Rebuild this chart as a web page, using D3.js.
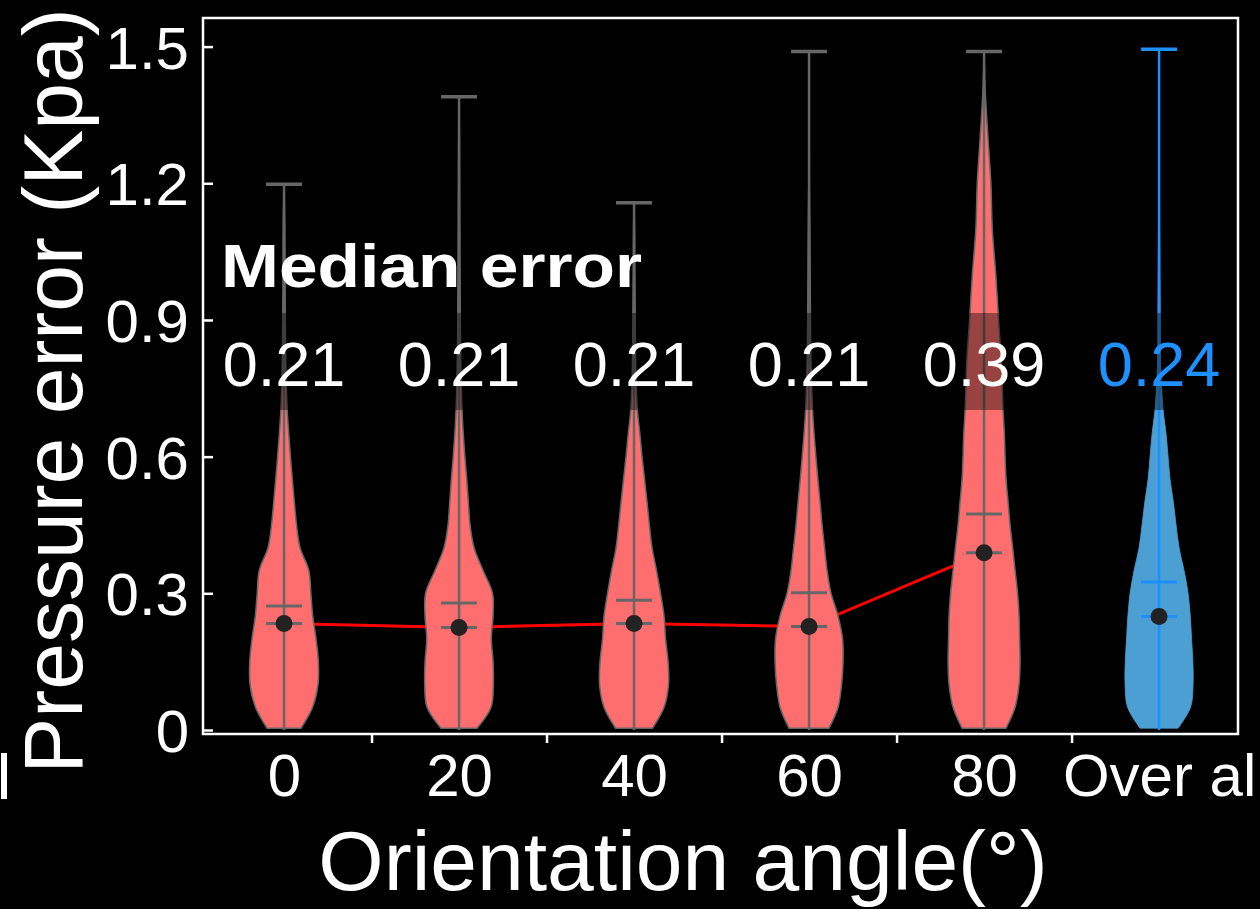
<!DOCTYPE html>
<html><head><meta charset="utf-8">
<script src="https://cdn.jsdelivr.net/npm/d3@7"></script>
<style>body{margin:0;background:#000}svg{display:block}</style>
</head><body><svg id="c" width="1260" height="909"></svg>
<script>
// ---- data ----
const categories = ["0", "20", "40", "60", "80", "Over al"];
const medianLabels = ["0.21", "0.21", "0.21", "0.21", "0.39", "0.24"];
const maxValues = [1.198, 1.39, 1.157, 1.489, 1.489, 1.494];
const minValues = [0, 0, 0, 0, 0, 0];
const meanValues = [0.272, 0.279, 0.285, 0.301, 0.474, 0.325];
const medianValues = [0.234, 0.225, 0.234, 0.227, 0.389, 0.249];
const yTicks = [0, 0.3, 0.6, 0.9, 1.2, 1.5];
// kernel density estimates (half widths, arbitrary units) on a common grid
const densityGrid = [0.004, 0.05, 0.1, 0.15, 0.2, 0.25, 0.3, 0.35, 0.4, 0.45, 0.5, 0.55, 0.6, 0.65, 0.7, 0.8, 0.9, 1.0, 1.1, 1.2, 1.3, 1.4];
const density0  = [17, 28.5, 34, 34.3, 32, 28.7, 26.8, 24.8, 16, 12.5, 10.3, 8.3, 6.4, 4.7, 3.2, 1.8, 1.3, 1.0, 0.8, 0.3, 0, 0];
const density20 = [18, 32, 34.3, 34, 32.3, 34, 33.5, 24, 15, 11, 9.3, 7.7, 5.8, 4.2, 3.0, 1.8, 1.3, 1.0, 0.8, 0.6, 0.4, 0];
const density40 = [18.5, 30, 34.5, 34, 31.5, 30, 26.5, 22.5, 18, 15.3, 13, 10.5, 8, 5.8, 3.4, 1.6, 1.2, 0.8, 0.5, 0, 0, 0];
const density60 = [20, 29, 32.5, 34, 33.5, 29, 22, 18, 15.5, 13, 11, 8.8, 6.8, 5, 3.5, 2.0, 1.4, 1.1, 0.8, 0.3, 0.2, 0.1];
const density80 = [22, 31, 35, 36, 35.5, 35, 33.5, 31, 28.6, 26, 24, 22, 21, 20.3, 19, 17.5, 14.5, 11.7, 8.2, 6.8, 3.9, 1.2];
const densityAll = [19, 31.5, 34, 33.8, 32.5, 31.2, 29, 25, 20, 17, 14.3, 11, 9, 7, 4.2, 1.6, 1.2, 0.9, 0.6, 0.4, 0.3, 0.2];
const densities = [density0, density20, density40, density60, density80, densityAll];
const trendIdx = [0, 1, 2, 3, 4];

// ---- drawing ----
const svg = d3.select("#c");
svg.append("rect").attr("width", 1260).attr("height", 909).attr("fill", "#000");
const L = 203, R = 1238, T = 18, B = 734;
const x = d3.scaleLinear().domain([-0.463, 5.451]).range([L, R]);
const y = d3.scaleLinear().domain([0, 1.5]).range([730, 46.6]);
const w = d3.scaleLinear().domain([0, 36]).range([0, 36]);
const FONT = "'Liberation Sans', Arial, Helvetica, sans-serif";
const RED = "#ff6e6e", BLUE_FILL = "#4c9fd2", BLUE = "#1e90ff", GRAY = "#666666";

// trend line (under violins)
svg.append("path")
  .datum(trendIdx)
  .attr("d", d3.line().x(i => x(i)).y(i => y(medianValues[i])))
  .attr("fill", "none").attr("stroke", "#ff0000").attr("stroke-width", 3);

// violins
categories.forEach((c, i) => {
  const pts = [];
  densityGrid.forEach((v, k) => { if (v < maxValues[i]) pts.push({ v, d: densities[i][k] }); });
  pts.push({ v: maxValues[i], d: 0 });
  const cx = x(i);
  const area = d3.area().curve(d3.curveCatmullRom)
    .y(p => y(p.v)).x0(p => cx - w(p.d)).x1(p => cx + w(p.d));
  const blue = i === 5;
  svg.append("path").attr("d", area(pts))
    .attr("fill", blue ? BLUE_FILL : RED)
    .attr("stroke", blue ? BLUE_FILL : GRAY)
    .attr("stroke-width", blue ? 0.8 : 1.5);
});

// whiskers, caps, mean & median bars
categories.forEach((c, i) => {
  const cx = x(i);
  const col = i === 5 ? BLUE : GRAY;
  svg.append("line").attr("x1", cx).attr("x2", cx).attr("y1", y(minValues[i])).attr("y2", y(maxValues[i]))
    .attr("stroke", col).attr("stroke-width", 2.5);
  svg.append("line").attr("x1", cx - 18).attr("x2", cx + 18).attr("y1", y(maxValues[i])).attr("y2", y(maxValues[i]))
    .attr("stroke", col).attr("stroke-width", 3.5);
  [meanValues[i], medianValues[i]].forEach(v => {
    svg.append("line").attr("x1", cx - 18).attr("x2", cx + 18).attr("y1", y(v)).attr("y2", y(v))
      .attr("stroke", col).attr("stroke-width", 3);
  });
  svg.append("circle").attr("cx", cx).attr("cy", y(medianValues[i])).attr("r", 8.5).attr("fill", "#222");
});

// frame
svg.append("rect").attr("x", L).attr("y", T).attr("width", R - L).attr("height", B - T)
  .attr("fill", "none").attr("stroke", "#fff").attr("stroke-width", 2.5);

// y axis ticks (inward) and labels
const yAxis = d3.axisLeft(y).tickValues(yTicks).tickSize(-10).tickPadding(14)
  .tickFormat(d => d === 0 ? "0" : d.toFixed(1));
const gy = svg.append("g").attr("transform", `translate(${L},0)`).call(yAxis);
gy.select(".domain").remove();
gy.selectAll(".tick line").attr("stroke", "#fff").attr("stroke-width", 2.5);
gy.selectAll(".tick text").attr("fill", "#fff").attr("font-family", FONT).attr("font-size", 60)
  .attr("dy", "0.36em");

// x axis: minor ticks between categories (outward), labels at category centres
const gx = svg.append("g").attr("transform", `translate(0,${B})`);
gx.call(d3.axisBottom(x).tickValues([0.5, 1.5, 2.5, 3.5, 4.5]).tickSize(9).tickFormat(""));
gx.select(".domain").remove();
gx.selectAll(".tick line").attr("stroke", "#fff").attr("stroke-width", 2.5);
const gxl = svg.append("g").attr("transform", `translate(0,${B})`);
gxl.call(d3.axisBottom(x).tickValues(d3.range(categories.length)).tickSize(0).tickPadding(0)
  .tickFormat(i => categories[i]));
gxl.select(".domain").remove();
gxl.selectAll(".tick text").attr("fill", "#fff").attr("font-family", FONT).attr("font-size", 60)
  .attr("dy", null).attr("y", 62);

// median labels with translucent boxes
categories.forEach((c, i) => {
  const t = svg.append("text").attr("x", x(i)).attr("y", 386).attr("text-anchor", "middle")
    .attr("font-family", FONT).attr("font-size", 63)
    .attr("fill", i === 5 ? BLUE : "#fff").text(medianLabels[i]);
  const bb = t.node().getBBox();
  svg.insert("rect", () => t.node())
    .attr("x", bb.x - 8).attr("y", 313).attr("width", bb.width + 16).attr("height", 97)
    .attr("fill", "#000").attr("fill-opacity", 0.4);
});

svg.append("text").attr("x", 221).attr("y", 287).attr("font-family", FONT).attr("font-weight", "bold")
  .attr("font-size", 62).attr("fill", "#fff").attr("textLength", 421).attr("lengthAdjust", "spacingAndGlyphs")
  .text("Median error");

// axis titles
svg.append("text").attr("transform", "translate(82,391) rotate(-90)").attr("text-anchor", "middle")
  .attr("font-family", FONT).attr("font-size", 84).attr("fill", "#fff").text("Pressure error (Kpa)");
svg.append("text").attr("x", 683).attr("y", 890).attr("text-anchor", "middle")
  .attr("font-family", FONT).attr("font-size", 84).attr("fill", "#fff").text("Orientation angle(°)");

// stray mark at lower left
svg.append("rect").attr("x", 1).attr("y", 753).attr("width", 6).attr("height", 46).attr("fill", "#fff");
</script></body></html>
